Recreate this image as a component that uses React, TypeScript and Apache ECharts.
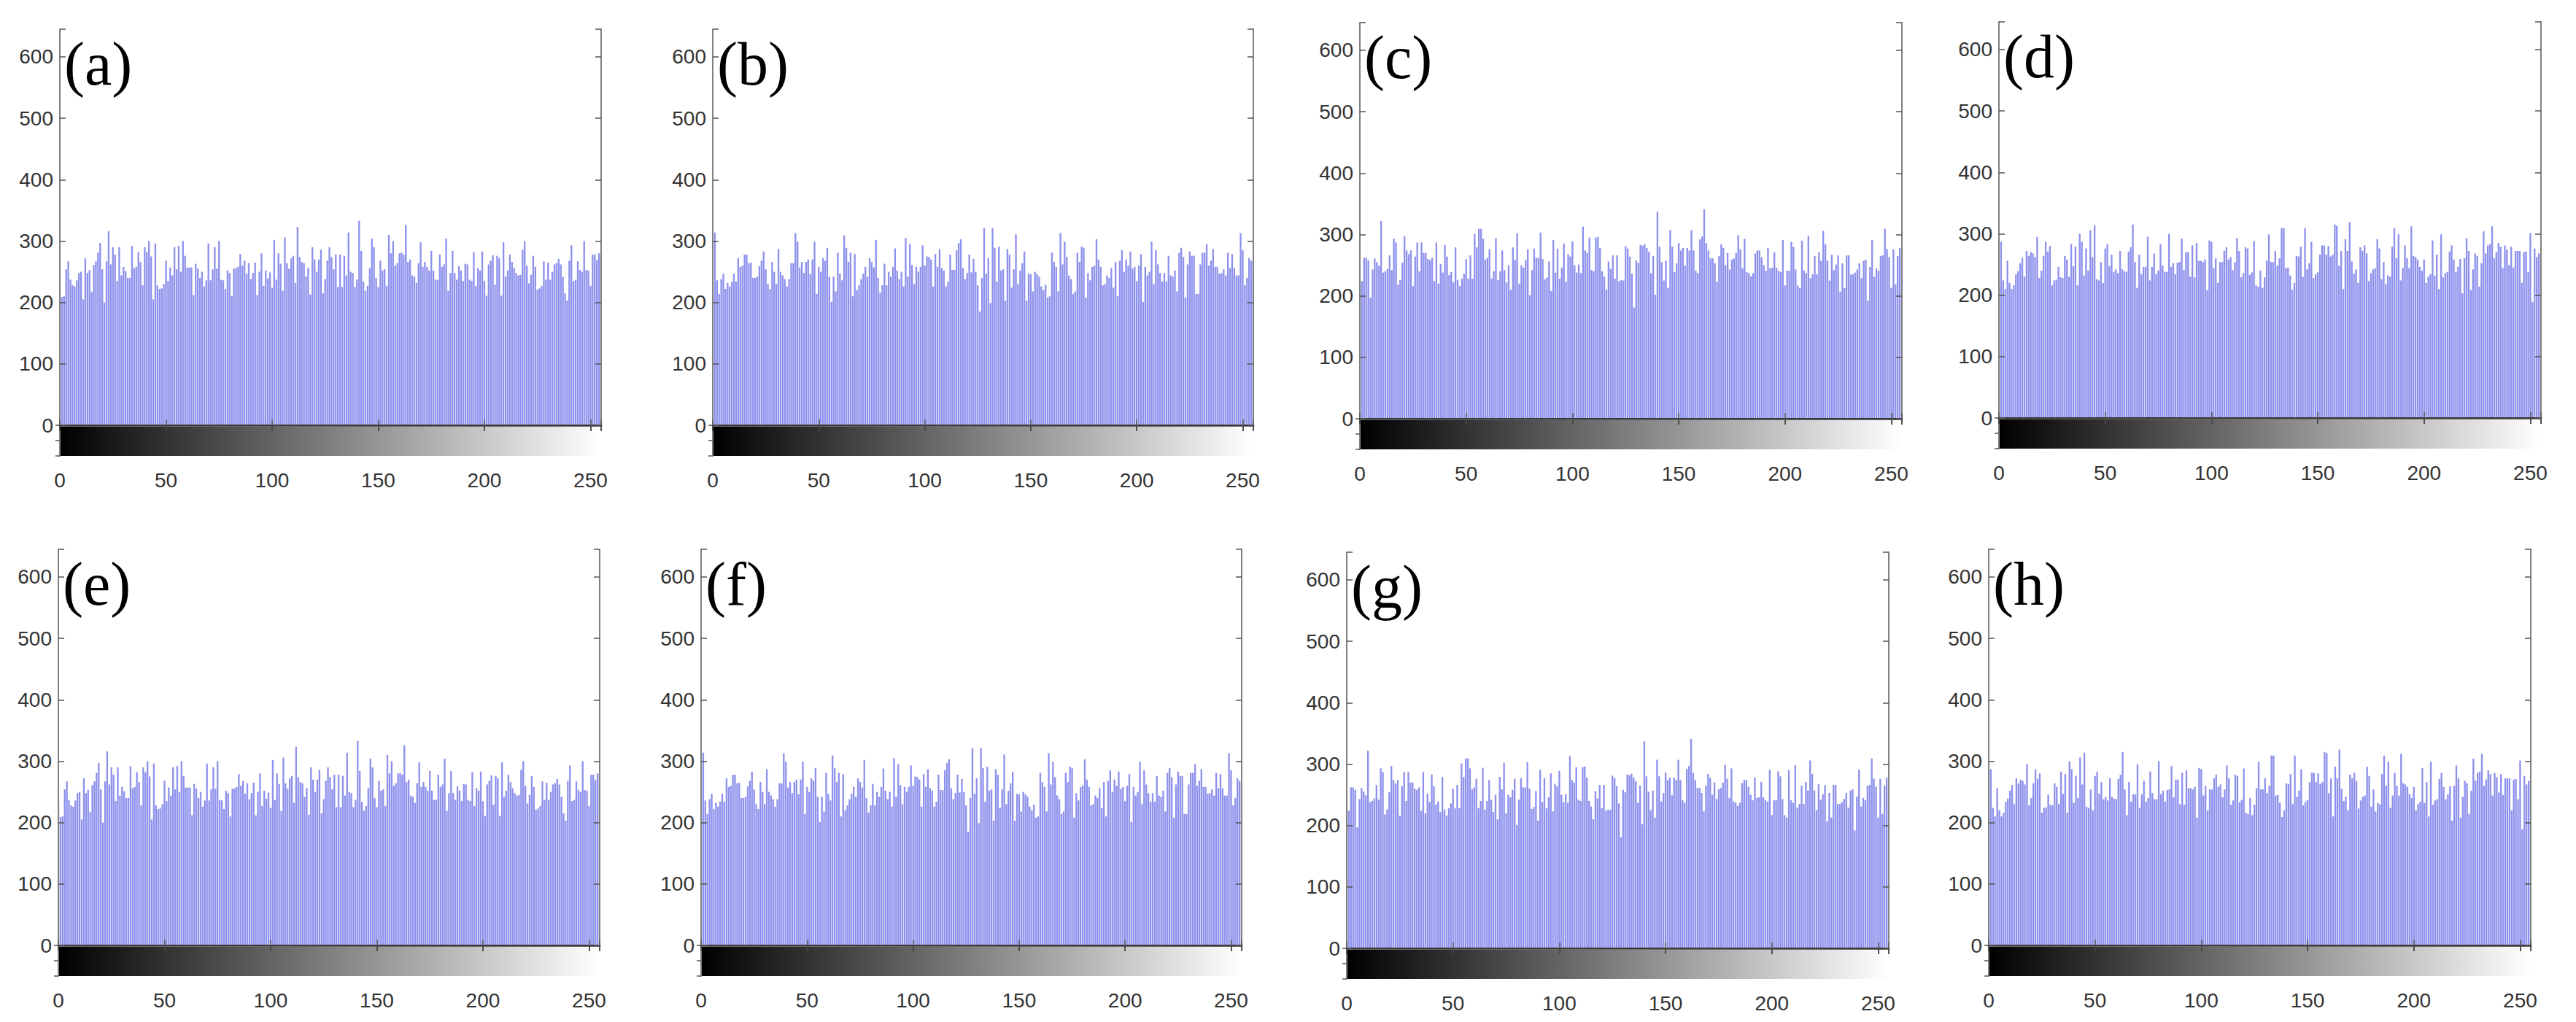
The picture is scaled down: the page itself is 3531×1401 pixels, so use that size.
import React, { useEffect, useRef } from "react";
import * as echarts from "echarts";

// grey levels (x categories)
const GREY_LEVELS: number[] = Array.from({ length: 256 }, (_, i) => i);
const X_TICKS = [0, 50, 100, 150, 200, 250];
const Y_TICKS = [0, 100, 200, 300, 400, 500, 600];
const Y_MAX = 645;
const CBAR_MIN = -50;

// histogram counts, grey level 0..255
const histA: number[] = [
  235,209,210,254,267,237,228,226,236,248,
  250,205,272,248,253,217,261,267,281,297,
  254,200,267,316,262,290,278,235,290,244,
  258,251,240,240,292,256,258,282,266,228,
  290,282,300,275,205,296,228,222,223,230,
  268,235,257,244,290,254,292,250,300,276,
  257,257,257,212,263,255,240,250,226,236,
  296,236,254,290,255,300,237,236,222,252,
  248,210,255,256,258,279,260,268,247,264,
  238,248,265,212,250,280,
  227,252,239,249,224,302,237,280,263,219,
  306,264,255,272,276,232,323,274,266,264,
  242,256,213,290,270,250,270,286,215,238,
  268,290,274,254,278,225,278,225,276,244,
  314,250,248,225,237,333,284,234,219,227,
  256,304,290,240,225,268,252,254,
  227,310,280,300,260,264,280,281,278,
  326,266,270,244,242,232,264,298,258,266,
  258,252,284,252,237,237,278,258,262,304,219,248,
  284,248,237,259,252,235,263,262,237,
  235,282,227,256,252,283,235,211,262,
  268,277,229,276,272,211,298,242,252,278,
  266,256,248,244,245,286,300,260,231,
  245,276,258,221,223,227,267,237,265,
  237,250,262,264,271,262,242,215,203,268,
  293,235,237,267,253,250,300,253,
  252,227,278,278,269,280,280,
];

const histB: number[] = [
  214,314,236,214,238,247,222,232,226,234,
  247,234,272,258,260,278,278,264,265,
  240,240,242,259,268,283,254,230,222,
  266,250,230,287,250,244,238,226,238,264,
  264,313,299,257,266,248,266,270,246,
  270,299,214,258,250,272,268,289,242,
  201,242,218,281,247,236,309,289,266,
  281,210,279,220,228,238,247,258,242,272,
  266,257,302,240,216,228,263,228,250,
  242,258,288,252,238,250,226,305,242,
  295,261,230,258,250,258,293,260,275,274,
  270,226,279,258,287,256,252,226,234,
  278,253,253,285,297,303,256,238,248,
  278,249,271,250,228,185,240,321,247,
  272,199,
  321,289,234,291,252,254,203,287,278,224,
  254,311,230,252,264,283,203,247,246,
  218,250,246,242,226,220,229,208,210,
  281,266,258,218,313,262,299,274,244,
  238,214,218,281,266,291,289,208,248,
  236,258,260,303,270,258,228,230,244,
  240,256,224,266,210,268,285,250,270,260,
  283,255,258,235,260,279,201,258,244,
  250,299,230,285,262,248,234,248,234,
  276,244,242,252,218,281,289,274,208,
  262,283,276,276,214,214,262,281,281,
  295,260,268,287,258,258,247,248,254,
  244,281,256,279,256,244,244,313,285,
  228,240,272,268,266,
];

const histC: number[] = [
  224,224,262,262,258,197,243,261,255,249,
  322,238,240,244,266,242,293,287,218,
  226,254,297,274,268,274,216,264,287,240,
  287,270,270,260,258,262,224,287,220,
  252,238,283,264,234,239,222,279,226,
  216,228,236,260,228,266,228,301,279,309,
  309,293,259,262,276,228,240,294,226,
  240,274,242,222,250,210,279,259,302,220,
  250,246,258,276,201,242,277,262,262,
  303,260,227,230,256,208,291,238,277,
  228,246,285,223,268,264,289,250,238,251,
  237,313,274,270,295,242,240,295,296,278,
  240,231,210,256,244,266,228,266,224,
  226,225,281,277,264,236,181,258,254,283,
  282,284,278,272,237,265,202,337,280,255,
  225,257,213,307,280,239,253,286,274,
  278,249,278,274,307,274,241,237,292,297,
  341,286,274,261,261,253,223,265,284,
  278,250,270,243,259,261,270,299,276,245,
  293,239,237,232,237,269,274,274,263,
  250,241,278,245,246,271,246,241,239,291,
  217,241,241,288,280,243,217,213,290,
  241,237,298,229,235,265,235,271,257,306,
  284,257,225,267,242,251,266,207,253,
  213,266,266,235,235,238,243,253,229,257,
  259,192,247,291,231,245,241,265,266,
  309,276,263,213,276,219,265,278,261,
];

const histD: number[] = [
  216,287,224,210,256,220,210,216,234,239,
  252,261,230,272,264,270,268,262,295,
  228,240,264,287,271,280,216,224,225,
  246,229,228,264,258,230,283,247,279,216,
  300,287,232,276,240,306,262,314,226,
  224,254,220,276,283,247,266,238,242,236,
  272,242,239,238,271,278,315,254,212,
  266,234,246,246,295,224,246,268,234,240,
  283,248,238,238,300,246,252,234,253,
  254,292,241,270,270,230,281,229,285,256,
  256,254,258,208,289,287,244,260,220,
  254,254,272,278,258,262,241,254,293,272,
  229,236,278,276,233,237,288,216,214,
  240,212,229,256,299,254,254,272,248,260,
  309,309,244,245,232,209,220,264,263,279,
  230,309,242,252,287,228,234,237,266,
  281,281,266,280,263,266,315,313,248,
  272,210,291,272,319,255,235,242,220,
  278,272,281,268,223,236,242,244,291,276,
  226,254,218,232,230,279,309,260,299,
  224,244,281,260,244,312,264,262,258,
  246,240,258,220,230,234,289,232,266,210,
  299,229,236,238,271,281,258,238,246,
  259,203,260,293,272,208,242,268,264,
  214,252,304,268,281,283,312,260,270,285,
  279,244,281,274,249,279,245,272,272,
  272,220,270,271,238,301,189,276,262,268,
  268,
];

const PANEL_LABELS = ["(a)", "(b)", "(c)", "(d)", "(e)", "(f)", "(g)", "(h)"];
const PANEL_DATA = [histA, histB, histC, histD, histA, histB, histC, histD];

// layout (pixels): plot left/right edges, top frame, zero line
const LAYOUT = [
  { left: 82, right: 824, top: 40, zero: 583 },
  { left: 977, right: 1718, top: 40, zero: 583 },
  { left: 1864, right: 2607, top: 31, zero: 574 },
  { left: 2740, right: 3483, top: 30, zero: 573 },
  { left: 80, right: 822, top: 753, zero: 1296 },
  { left: 961, right: 1702, top: 753, zero: 1296 },
  { left: 1846, right: 2589, top: 757, zero: 1300 },
  { left: 2726, right: 3469, top: 753, zero: 1296 },
];
const CBAR_H = 42;
const W = 3531;
const H = 1401;

const BAR_COLOR = "#8d91ec";
const FRAME = "#808080";
const LABEL_COLOR = "#333333";
const AXIS_FONT = "Liberation Sans";

function buildOption() {
  const grid: any[] = [];
  const xAxis: any[] = [];
  const yAxis: any[] = [];
  const series: any[] = [];
  const graphic: any[] = [];

  const labelStyle = { fontFamily: AXIS_FONT, fontSize: 28, color: LABEL_COLOR };

  LAYOUT.forEach((L, k) => {
    const width = L.right - L.left;
    grid.push({ left: L.left, top: L.top, width, height: L.zero - L.top });
    grid.push({ left: L.left, top: L.zero, width, height: CBAR_H });
    const gh = 2 * k;
    const gc = 2 * k + 1;

    xAxis.push({
      gridIndex: gh, type: "value", min: 0, max: 255, interval: 50, position: "top", z: 6,
      axisLine: { show: true, lineStyle: { color: FRAME, width: 2 } },
      axisTick: { show: true, inside: true, length: 8, lineStyle: { color: "#555", width: 1.5 } },
      axisLabel: { show: false }, splitLine: { show: false },
    });
    xAxis.push({
      gridIndex: gc, type: "value", min: 0, max: 255, interval: 50, position: "bottom", z: 6,
      axisLine: { show: true, lineStyle: { color: "#6a6a6a", width: 3 } },
      axisTick: { show: true, inside: true, length: 8, lineStyle: { color: "#555", width: 1.5 } },
      axisLabel: {
        ...labelStyle, margin: 19,
        formatter: (v: number) => (X_TICKS.includes(v) ? String(v) : ""),
      },
      splitLine: { show: false },
    });
    xAxis.push({
      gridIndex: gc, type: "value", min: 0, max: 255, interval: 50, position: "top", z: 6,
      axisLine: { show: true, lineStyle: { color: "#3a3a3a", width: 2 } },
      axisTick: { show: true, inside: true, length: 8, lineStyle: { color: "#444", width: 1.5 } },
      axisLabel: { show: false }, splitLine: { show: false },
    });

    yAxis.push({
      gridIndex: gh, type: "value", min: 0, max: Y_MAX, interval: 100, position: "left", z: 6,
      axisLine: { show: true, lineStyle: { color: FRAME, width: 2 } },
      axisTick: { show: true, inside: true, length: 8, lineStyle: { color: "#555", width: 1.5 } },
      axisLabel: {
        ...labelStyle, margin: 9,
        formatter: (v: number) => (Y_TICKS.includes(v) ? String(v) : ""),
      },
      splitLine: { show: false },
    });
    yAxis.push({
      gridIndex: gh, type: "value", min: 0, max: Y_MAX, interval: 100, position: "right", z: 6,
      axisLine: { show: true, lineStyle: { color: FRAME, width: 2 } },
      axisTick: { show: true, inside: true, length: 8, lineStyle: { color: "#555", width: 1.5 } },
      axisLabel: { show: false }, splitLine: { show: false },
    });
    yAxis.push({
      gridIndex: gc, type: "value", min: CBAR_MIN, max: 0, position: "left", z: 6,
      axisLine: { show: true, lineStyle: { color: FRAME, width: 2 } },
      axisTick: { show: false }, axisLabel: { show: false }, splitLine: { show: false },
    });
    yAxis.push({
      gridIndex: gc, type: "value", min: CBAR_MIN, max: 0, interval: 25, position: "right", z: 6,
      axisLine: { show: true, lineStyle: { color: FRAME, width: 2 } },
      axisTick: { show: true, inside: true, length: 6, lineStyle: { color: "#555", width: 1.5 } },
      axisLabel: { show: false }, splitLine: { show: false },
    });

    const data = PANEL_DATA[k];
    series.push({
      type: "custom",
      xAxisIndex: 3 * k,
      yAxisIndex: 4 * k,
      clip: true,
      silent: true,
      data: GREY_LEVELS.slice(0, data.length).map((g, i) => [g, data[i]]),
      renderItem: (params: any, api: any) => {
        const g = api.value(0);
        const v = api.value(1);
        const p0 = api.coord([g - 0.4, v]);
        const p1 = api.coord([g + 0.4, 0]);
        return {
          type: "rect",
          shape: { x: p0[0], y: p0[1], width: p1[0] - p0[0], height: p1[1] - p0[1] },
          style: { fill: BAR_COLOR },
        };
      },
    });
    series.push({
      type: "custom",
      xAxisIndex: 3 * k + 1,
      yAxisIndex: 4 * k + 2,
      clip: true,
      silent: true,
      data: [[0, CBAR_MIN, 255, 0]],
      renderItem: (params: any, api: any) => {
        const p0 = api.coord([api.value(0), api.value(3)]);
        const p1 = api.coord([api.value(2), api.value(1)]);
        return {
          type: "rect",
          shape: { x: p0[0], y: p0[1], width: p1[0] - p0[0], height: p1[1] - p0[1] },
          style: {
            fill: new echarts.graphic.LinearGradient(0, 0, 1, 0, [
              { offset: 0, color: "#000000" },
              { offset: 1, color: "#ffffff" },
            ]),
          },
        };
      },
    });

    graphic.push({
      type: "text",
      left: L.left + 6,
      top: L.top + 5,
      z: 20,
      style: {
        text: PANEL_LABELS[k],
        font: '84px "Liberation Serif", "Times New Roman", serif',
        fill: "#000",
      },
    });
  });

  return {
    animation: false,
    backgroundColor: "#ffffff",
    grid,
    xAxis,
    yAxis,
    series,
    graphic,
  };
}

export default function App() {
  const ref = useRef<HTMLDivElement>(null);
  useEffect(() => {
    if (!ref.current) return;
    const chart = echarts.init(ref.current, undefined, { renderer: "svg", width: W, height: H });
    chart.setOption(buildOption());
    return () => chart.dispose();
  }, []);
  return (
    <div
      ref={ref}
      style={{ position: "absolute", left: 0, top: 0, width: W, height: H, background: "#fff" }}
    />
  );
}
